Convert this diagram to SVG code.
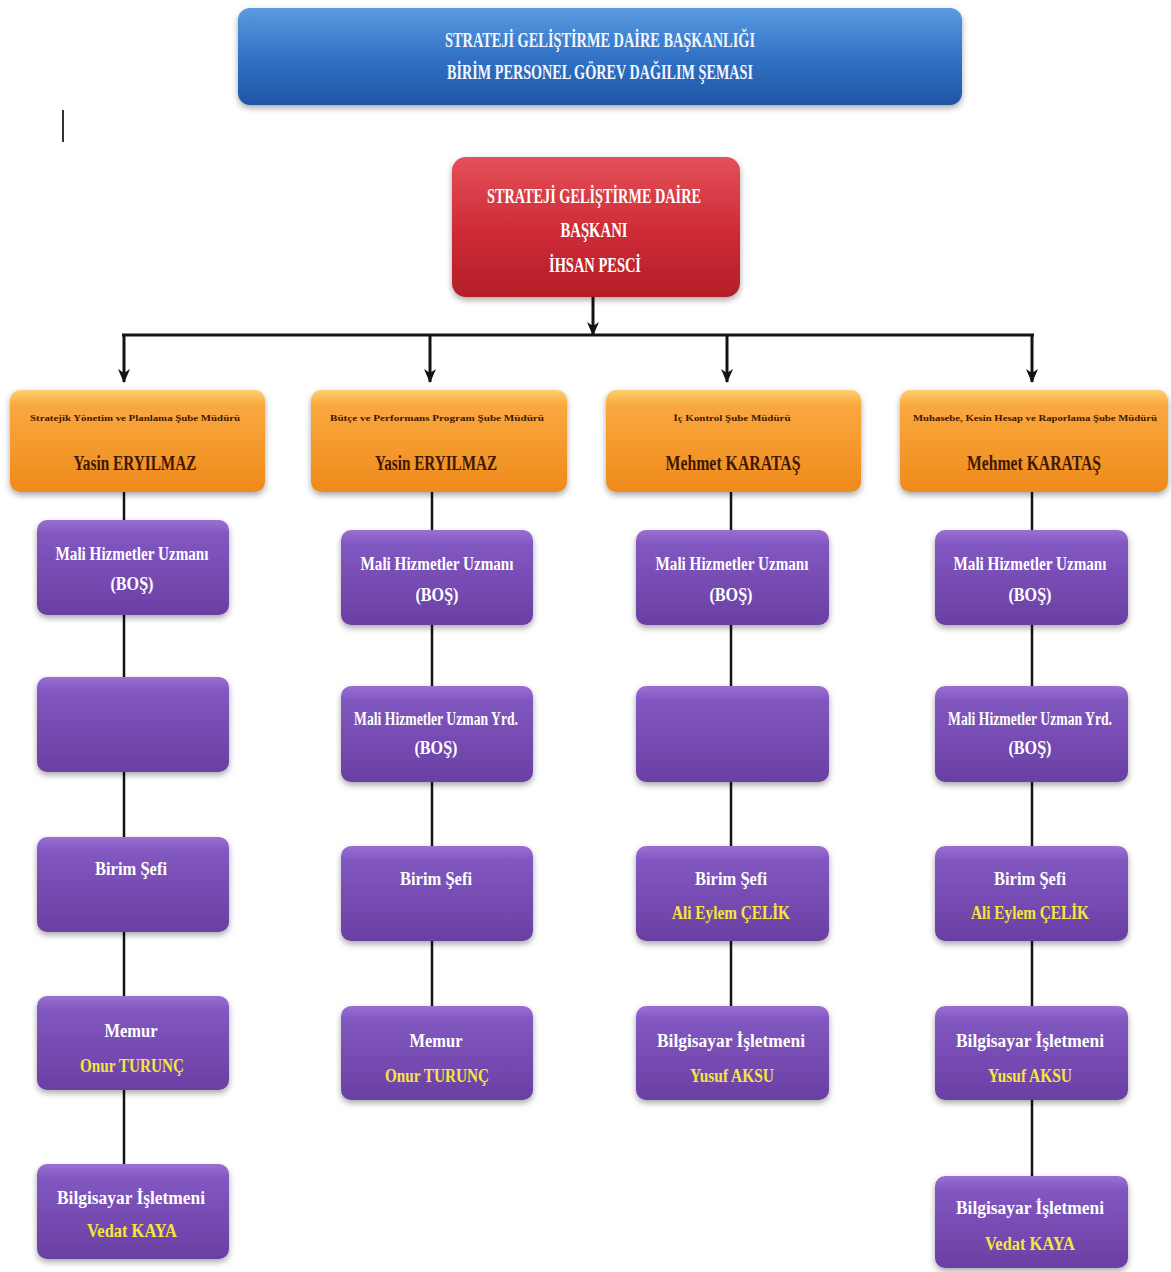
<svg xmlns="http://www.w3.org/2000/svg" width="1171" height="1272" viewBox="0 0 1171 1272">
<style>
.t{font-family:"Liberation Serif","DejaVu Serif",serif;font-weight:bold;text-anchor:middle}
.w{fill:#ffffff}
.tw{fill:#f2f6ff}
.y{fill:#f4e640}
.o{fill:#3f1802}
.ln{stroke:#141414;stroke-width:3;fill:none}
.ch{stroke:#141414;stroke-width:2.5;fill:none}
.pb{fill:url(#gp);filter:url(#sh)}
.ob{fill:url(#go);filter:url(#sh)}
</style>
<defs>
<filter id="sh" x="-10%" y="-15%" width="120%" height="140%">
<feDropShadow dx="0" dy="3" stdDeviation="3" flood-color="#000" flood-opacity="0.35"/>
</filter>
<linearGradient id="gb" x1="0" y1="0" x2="0" y2="1">
<stop offset="0" stop-color="#5a9ae0"/><stop offset="0.5" stop-color="#3273c6"/><stop offset="1" stop-color="#1f55a3"/>
</linearGradient>
<linearGradient id="gr" x1="0" y1="0" x2="0" y2="1">
<stop offset="0" stop-color="#e4505a"/><stop offset="0.5" stop-color="#cf2d37"/><stop offset="1" stop-color="#b41e28"/>
</linearGradient>
<linearGradient id="go" x1="0" y1="0" x2="0" y2="1">
<stop offset="0" stop-color="#fdd070"/><stop offset="0.15" stop-color="#f9a83e"/><stop offset="1" stop-color="#ef8a1c"/>
</linearGradient>
<linearGradient id="gp" x1="0" y1="0" x2="0" y2="1">
<stop offset="0" stop-color="#9a70d2"/><stop offset="0.15" stop-color="#8157c0"/><stop offset="1" stop-color="#6a3fa3"/>
</linearGradient>
<marker id="ar" markerWidth="14" markerHeight="12" refX="13" refY="6" orient="auto" markerUnits="userSpaceOnUse" viewBox="0 0 14 12">
<path d="M0,0 L14,6 L0,12 L4,6 Z" fill="#141414"/>
</marker>
</defs>
<rect width="1171" height="1272" fill="#ffffff"/>

<line x1="63" y1="110" x2="63" y2="142" stroke="#333" stroke-width="2"/>

<g id="connectors">
<line class="ln" x1="593" y1="297" x2="593" y2="335" marker-end="url(#ar)"/>
<line class="ln" x1="122" y1="335" x2="1034" y2="335"/>
<line class="ln" x1="124" y1="335" x2="124" y2="382" marker-end="url(#ar)"/>
<line class="ln" x1="430" y1="335" x2="430" y2="382" marker-end="url(#ar)"/>
<line class="ln" x1="727" y1="335" x2="727" y2="382" marker-end="url(#ar)"/>
<line class="ln" x1="1032" y1="335" x2="1032" y2="382" marker-end="url(#ar)"/>
<line class="ch" x1="124" y1="492" x2="124" y2="1166"/>
<line class="ch" x1="432" y1="492" x2="432" y2="1008"/>
<line class="ch" x1="731" y1="492" x2="731" y2="1008"/>
<line class="ch" x1="1032" y1="492" x2="1032" y2="1178"/>
</g>

<g id="title">
<rect x="238" y="8" width="724" height="97" rx="12" fill="url(#gb)" filter="url(#sh)"/>
<text class="t tw" x="600" y="47" font-size="20" textLength="310" lengthAdjust="spacingAndGlyphs">STRATEJİ GELİŞTİRME DAİRE BAŞKANLIĞI</text>
<text class="t tw" x="600" y="79" font-size="20" textLength="306" lengthAdjust="spacingAndGlyphs">BİRİM PERSONEL  GÖREV DAĞILIM ŞEMASI</text>
</g>

<g id="head">
<rect x="452" y="157" width="288" height="140" rx="14" fill="url(#gr)" filter="url(#sh)"/>
<text class="t w" x="594" y="203" font-size="21" textLength="214" lengthAdjust="spacingAndGlyphs">STRATEJİ GELİŞTİRME DAİRE</text>
<text class="t w" x="594" y="237" font-size="21" textLength="67" lengthAdjust="spacingAndGlyphs">BAŞKANI</text>
<text class="t w" x="595" y="272" font-size="21" textLength="92" lengthAdjust="spacingAndGlyphs">İHSAN PESCİ</text>
</g>

<g id="o1">
<rect class="ob" x="10" y="390" width="255" height="102" rx="10"/>
<text class="t o" x="135" y="421" font-size="9" textLength="210" lengthAdjust="spacingAndGlyphs">Stratejik Yönetim ve Planlama Şube Müdürü</text>
<text class="t o" x="135" y="470" font-size="20" textLength="123" lengthAdjust="spacingAndGlyphs">Yasin ERYILMAZ</text>
</g>
<g id="o2">
<rect class="ob" x="311" y="390" width="256" height="102" rx="10"/>
<text class="t o" x="437" y="421" font-size="9" textLength="214" lengthAdjust="spacingAndGlyphs">Bütçe ve Performans Program Şube Müdürü</text>
<text class="t o" x="436" y="470" font-size="20" textLength="122" lengthAdjust="spacingAndGlyphs">Yasin ERYILMAZ</text>
</g>
<g id="o3">
<rect class="ob" x="606" y="390" width="255" height="102" rx="10"/>
<text class="t o" x="732" y="421" font-size="9" textLength="117" lengthAdjust="spacingAndGlyphs">İç Kontrol Şube Müdürü</text>
<text class="t o" x="733" y="470" font-size="20" textLength="135" lengthAdjust="spacingAndGlyphs">Mehmet KARATAŞ</text>
</g>
<g id="o4">
<rect class="ob" x="900" y="390" width="268" height="102" rx="10"/>
<text class="t o" x="1035" y="421" font-size="9" textLength="244" lengthAdjust="spacingAndGlyphs">Muhasebe, Kesin Hesap ve Raporlama Şube Müdürü</text>
<text class="t o" x="1034" y="470" font-size="20" textLength="134" lengthAdjust="spacingAndGlyphs">Mehmet KARATAŞ</text>
</g>

<!-- Column 1 -->
<g id="c1b1">
<rect class="pb" x="37" y="520" width="192" height="95" rx="10"/>
<text class="t w" x="132" y="560" font-size="18" textLength="153" lengthAdjust="spacingAndGlyphs">Mali Hizmetler Uzmanı</text>
<text class="t w" x="132" y="590" font-size="18" textLength="43" lengthAdjust="spacingAndGlyphs">(BOŞ)</text>
</g>
<g id="c1b2">
<rect class="pb" x="37" y="677" width="192" height="95" rx="10"/>
</g>
<g id="c1b3">
<rect class="pb" x="37" y="837" width="192" height="95" rx="10"/>
<text class="t w" x="131" y="875" font-size="18" textLength="72" lengthAdjust="spacingAndGlyphs">Birim Şefi</text>
</g>
<g id="c1b4">
<rect class="pb" x="37" y="996" width="192" height="94" rx="10"/>
<text class="t w" x="131" y="1037" font-size="18" textLength="53" lengthAdjust="spacingAndGlyphs">Memur</text>
<text class="t y" x="132" y="1072" font-size="18" textLength="104" lengthAdjust="spacingAndGlyphs">Onur TURUNÇ</text>
</g>
<g id="c1b5">
<rect class="pb" x="37" y="1164" width="192" height="95" rx="10"/>
<text class="t w" x="131" y="1204" font-size="18" textLength="148" lengthAdjust="spacingAndGlyphs">Bilgisayar İşletmeni</text>
<text class="t y" x="132" y="1237" font-size="18" textLength="90" lengthAdjust="spacingAndGlyphs">Vedat KAYA</text>
</g>

<!-- Column 2 -->
<g id="c2b1">
<rect class="pb" x="341" y="530" width="192" height="95" rx="10"/>
<text class="t w" x="437" y="570" font-size="18" textLength="153" lengthAdjust="spacingAndGlyphs">Mali Hizmetler Uzmanı</text>
<text class="t w" x="437" y="601" font-size="18" textLength="43" lengthAdjust="spacingAndGlyphs">(BOŞ)</text>
</g>
<g id="c2b2">
<rect class="pb" x="341" y="686" width="192" height="96" rx="10"/>
<text class="t w" x="436" y="725" font-size="18" textLength="164" lengthAdjust="spacingAndGlyphs">Mali Hizmetler Uzman Yrd.</text>
<text class="t w" x="436" y="754" font-size="18" textLength="43" lengthAdjust="spacingAndGlyphs">(BOŞ)</text>
</g>
<g id="c2b3">
<rect class="pb" x="341" y="846" width="192" height="95" rx="10"/>
<text class="t w" x="436" y="885" font-size="18" textLength="72" lengthAdjust="spacingAndGlyphs">Birim Şefi</text>
</g>
<g id="c2b4">
<rect class="pb" x="341" y="1006" width="192" height="94" rx="10"/>
<text class="t w" x="436" y="1047" font-size="18" textLength="53" lengthAdjust="spacingAndGlyphs">Memur</text>
<text class="t y" x="437" y="1082" font-size="18" textLength="104" lengthAdjust="spacingAndGlyphs">Onur TURUNÇ</text>
</g>

<!-- Column 3 -->
<g id="c3b1">
<rect class="pb" x="636" y="530" width="193" height="95" rx="10"/>
<text class="t w" x="732" y="570" font-size="18" textLength="153" lengthAdjust="spacingAndGlyphs">Mali Hizmetler Uzmanı</text>
<text class="t w" x="731" y="601" font-size="18" textLength="43" lengthAdjust="spacingAndGlyphs">(BOŞ)</text>
</g>
<g id="c3b2">
<rect class="pb" x="636" y="686" width="193" height="96" rx="10"/>
</g>
<g id="c3b3">
<rect class="pb" x="636" y="846" width="193" height="95" rx="10"/>
<text class="t w" x="731" y="885" font-size="18" textLength="72" lengthAdjust="spacingAndGlyphs">Birim Şefi</text>
<text class="t y" x="731" y="919" font-size="18" textLength="118" lengthAdjust="spacingAndGlyphs">Ali Eylem ÇELİK</text>
</g>
<g id="c3b4">
<rect class="pb" x="636" y="1006" width="193" height="94" rx="10"/>
<text class="t w" x="731" y="1047" font-size="18" textLength="148" lengthAdjust="spacingAndGlyphs">Bilgisayar İşletmeni</text>
<text class="t y" x="732" y="1082" font-size="18" textLength="84" lengthAdjust="spacingAndGlyphs">Yusuf AKSU</text>
</g>

<!-- Column 4 -->
<g id="c4b1">
<rect class="pb" x="935" y="530" width="193" height="95" rx="10"/>
<text class="t w" x="1030" y="570" font-size="18" textLength="153" lengthAdjust="spacingAndGlyphs">Mali Hizmetler Uzmanı</text>
<text class="t w" x="1030" y="601" font-size="18" textLength="43" lengthAdjust="spacingAndGlyphs">(BOŞ)</text>
</g>
<g id="c4b2">
<rect class="pb" x="935" y="686" width="193" height="96" rx="10"/>
<text class="t w" x="1030" y="725" font-size="18" textLength="164" lengthAdjust="spacingAndGlyphs">Mali Hizmetler Uzman Yrd.</text>
<text class="t w" x="1030" y="754" font-size="18" textLength="43" lengthAdjust="spacingAndGlyphs">(BOŞ)</text>
</g>
<g id="c4b3">
<rect class="pb" x="935" y="846" width="193" height="95" rx="10"/>
<text class="t w" x="1030" y="885" font-size="18" textLength="72" lengthAdjust="spacingAndGlyphs">Birim Şefi</text>
<text class="t y" x="1030" y="919" font-size="18" textLength="118" lengthAdjust="spacingAndGlyphs">Ali Eylem ÇELİK</text>
</g>
<g id="c4b4">
<rect class="pb" x="935" y="1006" width="193" height="94" rx="10"/>
<text class="t w" x="1030" y="1047" font-size="18" textLength="148" lengthAdjust="spacingAndGlyphs">Bilgisayar İşletmeni</text>
<text class="t y" x="1030" y="1082" font-size="18" textLength="84" lengthAdjust="spacingAndGlyphs">Yusuf AKSU</text>
</g>
<g id="c4b5">
<rect class="pb" x="935" y="1176" width="193" height="92" rx="10"/>
<text class="t w" x="1030" y="1214" font-size="18" textLength="148" lengthAdjust="spacingAndGlyphs">Bilgisayar İşletmeni</text>
<text class="t y" x="1030" y="1250" font-size="18" textLength="90" lengthAdjust="spacingAndGlyphs">Vedat KAYA</text>
</g>
</svg>
